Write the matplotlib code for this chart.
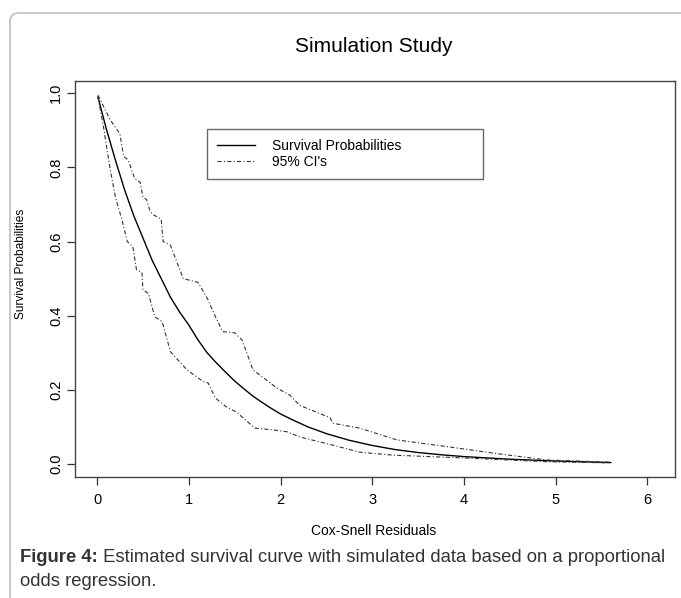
import matplotlib
matplotlib.use('Agg')
import matplotlib.pyplot as plt
from matplotlib.patches import FancyBboxPatch

plt.rcParams['font.family'] = ['Liberation Sans', 'DejaVu Sans']
plt.rcParams['lines.scale_dashes'] = False

# fitted survival curve
surv_x = [0.01, 0.1, 0.2, 0.3, 0.4, 0.5, 0.6, 0.7, 0.8, 0.9, 1.0, 1.1, 1.2,
          1.3, 1.4, 1.5, 1.6, 1.7, 1.8, 1.9, 2.0, 2.15, 2.3, 2.5, 2.75, 3.0,
          3.25, 3.5, 3.75, 4.0, 4.5, 5.0, 5.3, 5.6]
surv_y = [0.99, 0.905, 0.82, 0.74, 0.67, 0.61, 0.55, 0.50, 0.45, 0.41, 0.375,
          0.335, 0.30, 0.273, 0.248, 0.224, 0.203, 0.183, 0.166, 0.150, 0.135,
          0.117, 0.100, 0.082, 0.064, 0.05, 0.039, 0.031, 0.025, 0.020, 0.013,
          0.008, 0.006, 0.004]

# upper 95% band
upper_x = [0.01, 0.14, 0.25, 0.29, 0.34, 0.41, 0.47, 0.50, 0.54, 0.58, 0.61,
           0.70, 0.72, 0.80, 0.94, 1.10, 1.16, 1.21, 1.27, 1.37, 1.50, 1.58,
           1.70, 1.96, 2.10, 2.21, 2.54, 2.57, 2.86, 3.27, 3.84, 4.39, 4.90, 5.59]
upper_y = [0.995, 0.93, 0.89, 0.83, 0.82, 0.77, 0.76, 0.72, 0.713, 0.68, 0.673,
           0.66, 0.60, 0.59, 0.50, 0.49, 0.465, 0.443, 0.408, 0.357, 0.354, 0.335,
           0.254, 0.205, 0.186, 0.158, 0.125, 0.11, 0.097, 0.065, 0.046, 0.027,
           0.011, 0.005]

# lower 95% band
lower_x = [0.01, 0.07, 0.14, 0.20, 0.27, 0.33, 0.39, 0.43, 0.49, 0.50, 0.56,
           0.63, 0.71, 0.80, 0.98, 1.16, 1.21, 1.29, 1.41, 1.52, 1.72, 1.92,
           2.07, 2.21, 2.57, 2.86, 3.22, 4.03, 4.93, 5.59]
lower_y = [0.99, 0.91, 0.80, 0.72, 0.66, 0.60, 0.587, 0.524, 0.516, 0.47, 0.46,
           0.397, 0.384, 0.303, 0.254, 0.222, 0.219, 0.178, 0.154, 0.14, 0.097,
           0.092, 0.087, 0.073, 0.051, 0.032, 0.024, 0.016, 0.006, 0.003]

x_ticks = [0, 1, 2, 3, 4, 5, 6]
y_ticks = [0.0, 0.2, 0.4, 0.6, 0.8, 1.0]

W, H = 681, 598
fig = plt.figure(figsize=(W / 100, H / 100), dpi=100)

# rounded page border
border = FancyBboxPatch((10 / W, -0.1), 1.2, 1 - 13 / H + 0.1,
                        boxstyle='round,pad=0,rounding_size=0.014',
                        transform=fig.transFigure, facecolor='none',
                        edgecolor='#c4c4c4', linewidth=1.3)
fig.add_artist(border)

ax = fig.add_axes([75 / W, 1 - 477 / H, 600 / W, 396 / H])

dash = (0, (3.0, 1.6, 0.8, 1.6))
ax.plot(surv_x, surv_y, color='black', lw=1.0, label='Survival Probabilities')
ax.plot(upper_x, upper_y, color='#333333', lw=0.8, linestyle=dash,
        label="95% CI's")
ax.plot(lower_x, lower_y, color='#333333', lw=0.8, linestyle=dash)

ax.set_xlim(-0.24, 6.30)
ax.set_ylim(-0.035, 1.033)
ax.set_xticks(x_ticks)
ax.set_xticklabels([str(t) for t in x_ticks], fontsize=10.5)
ax.set_yticks(y_ticks)
ax.set_yticklabels([f'{t:.1f}' for t in y_ticks], fontsize=10.5,
                   rotation=90, va='center')
ax.tick_params(axis='both', direction='out', length=5.5, width=0.9,
               color='#333333')
ax.tick_params(axis='x', pad=6)
ax.tick_params(axis='y', pad=3)
for s in ax.spines.values():
    s.set_color('#444444')
    s.set_linewidth(1.0)

ax.set_xlabel('Cox-Snell Residuals', fontsize=10)
ax.xaxis.set_label_coords(0.498, -0.119)
ax.set_ylabel('Survival Probabilities', fontsize=8.6)
ax.yaxis.set_label_coords(-0.08, 0.537)

leg = ax.legend(loc='upper left', bbox_to_anchor=(0.22, 0.779, 0.46, 0.1),
                mode='expand', fontsize=10, frameon=True, fancybox=False,
                handlelength=2.7, handletextpad=1.2, labelspacing=0.1,
                borderpad=0.75, borderaxespad=0)
leg.get_frame().set_edgecolor('#444444')
leg.get_frame().set_linewidth(1.0)

fig.text(374 / W, 1 - 46 / H, 'Simulation Study', fontsize=15,
         ha='center', va='center')

cap_size = 13.3
cap = fig.text(20 / W, 1 - 557 / H, 'Figure 4:', fontsize=cap_size,
               fontweight='bold', color='#333333', va='center')
ax.annotate(' Estimated survival curve with simulated data based on a proportional',
            xy=(1, 0), xycoords=cap, va='bottom', fontsize=cap_size,
            color='#333333', annotation_clip=False)
fig.text(20 / W, 1 - 581 / H, 'odds regression.', fontsize=cap_size,
         color='#333333', va='center')

fig.savefig('out.png', dpi=100)
